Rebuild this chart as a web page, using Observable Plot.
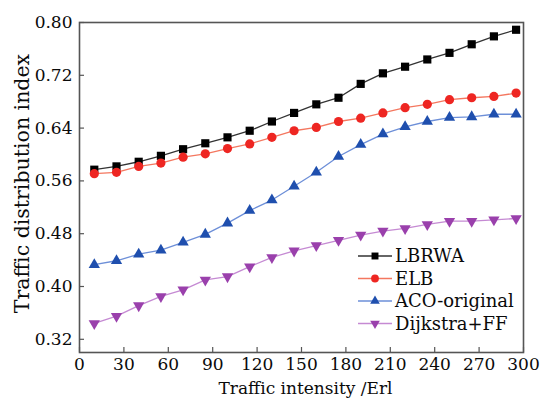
<!DOCTYPE html>
<html>
<head>
<meta charset="utf-8">
<script src="https://cdn.jsdelivr.net/npm/d3@7"></script>
<script src="https://cdn.jsdelivr.net/npm/@observablehq/plot@0.6"></script>
<style>
  body { margin: 0; background: #fff; }
  #chart { position: relative; width: 540px; height: 398px; }
</style>
</head>
<body>
<div id="chart"></div>
<script>
const intensity = [10, 25, 40, 55, 70, 85, 100, 115, 130, 145, 160, 175, 190, 205, 220, 235, 250, 265, 280, 295];
const lbrwa = [0.577, 0.582, 0.589, 0.598, 0.608, 0.617, 0.626, 0.636, 0.650, 0.663, 0.676, 0.686, 0.707, 0.723, 0.733, 0.744, 0.754, 0.767, 0.779, 0.789];
const elb = [0.571, 0.573, 0.582, 0.587, 0.596, 0.601, 0.609, 0.616, 0.626, 0.636, 0.641, 0.650, 0.655, 0.663, 0.671, 0.676, 0.683, 0.686, 0.688, 0.693];
const aco = [0.433, 0.439, 0.449, 0.455, 0.467, 0.479, 0.496, 0.515, 0.531, 0.552, 0.573, 0.597, 0.615, 0.631, 0.642, 0.650, 0.656, 0.657, 0.661, 0.661];
const dijkstra = [0.344, 0.355, 0.371, 0.385, 0.395, 0.410, 0.415, 0.430, 0.444, 0.454, 0.462, 0.470, 0.478, 0.484, 0.488, 0.494, 0.499, 0.499, 0.501, 0.503];
const seriesNames = ["LBRWA", "ELB", "ACO-original", "Dijkstra+FF"];
const xTicks = [0, 30, 60, 90, 120, 150, 180, 210, 240, 270, 300];
const yTicks = [0.32, 0.40, 0.48, 0.56, 0.64, 0.72, 0.80];
const xLabel = "Traffic intensity /Erl";
const yLabel = "Traffic distribution index";

const styles = [
  {values: lbrwa, line: "#333333", fill: "#000000", symbol: "square", r: 4.6, rotate: 0},
  {values: elb, line: "#f4775f", fill: "#ee2622", symbol: "circle", r: 4.6, rotate: 0},
  {values: aco, line: "#6d8fd8", fill: "#1f4fae", symbol: "triangle", r: 4.2, rotate: 0},
  {values: dijkstra, line: "#c58ad3", fill: "#9a40ac", symbol: "triangle", r: 4.2, rotate: 180}
];

const marks = [];
styles.forEach((s, k) => {
  const data = intensity.map((x, i) => ({x, y: s.values[i], series: seriesNames[k]}));
  marks.push(Plot.line(data, {x: "x", y: "y", stroke: s.line, strokeWidth: 1.3}));
  marks.push(Plot.dot(data, {x: "x", y: "y", fill: s.fill, stroke: "none", symbol: s.symbol, r: s.r, rotate: s.rotate}));
});

const fontFamily = "DejaVu Serif";
const plot = Plot.plot({
  width: 540,
  height: 398,
  marginLeft: 79,
  marginRight: 17,
  marginTop: 22,
  marginBottom: 46,
  style: {fontFamily, fontSize: "17px", color: "#0a0a0a", background: "#fff"},
  x: {domain: [0, 300]},
  y: {domain: [0.30, 0.80]},
  marks: [
    ...marks,
    Plot.frame({stroke: "#555", strokeWidth: 1.6}),
    Plot.axisX(xTicks, {tickSize: -5, text: null, label: null, stroke: "#555", strokeWidth: 1.2}),
    Plot.axisX(xTicks, {tickSize: 0, tickPadding: 5, tickFormat: d => String(d), label: null, fontSize: 17}),
    Plot.axisY(yTicks, {tickSize: -5, text: null, label: null, stroke: "#555", strokeWidth: 1.2}),
    Plot.axisY(yTicks, {tickSize: 0, tickPadding: 7, tickFormat: d => d.toFixed(2), label: null, fontSize: 17}),
    Plot.text([xLabel], {frameAnchor: "bottom", dy: 36, dx: 4, text: d => d, fontSize: 17, lineAnchor: "middle", textAnchor: "middle"}),
    Plot.text([yLabel], {frameAnchor: "left", dx: -57, dy: -4, rotate: -90, text: d => d, fontSize: 20.5, lineAnchor: "middle", textAnchor: "middle"})
  ]
});

// legend inside the plot area
const svg = d3.select(plot);
const lg = svg.append("g").attr("font-family", fontFamily).attr("font-size", 18).attr("text-anchor", "start");
styles.forEach((s, k) => {
  const y = 256 + k * 22.5;
  const g = lg.append("g").attr("transform", `translate(0,${y})`);
  g.append("line").attr("x1", 358).attr("x2", 392).attr("y1", 0).attr("y2", 0).attr("stroke", s.line).attr("stroke-width", 1.3);
  const sym = s.symbol === "square" ? d3.symbolSquare : s.symbol === "circle" ? d3.symbolCircle : d3.symbolTriangle;
  const size = Math.PI * (s.r * 0.85) ** 2;
  g.append("path").attr("d", d3.symbol(sym, size)()).attr("fill", s.fill)
    .attr("transform", `translate(375,0) rotate(${s.rotate})`);
  g.append("text").attr("x", 395).attr("y", 0).attr("dy", "0.35em").attr("fill", "#0a0a0a").attr("text-anchor", "start").text(seriesNames[k]);
});

document.getElementById("chart").appendChild(plot);
</script>
</body>
</html>
